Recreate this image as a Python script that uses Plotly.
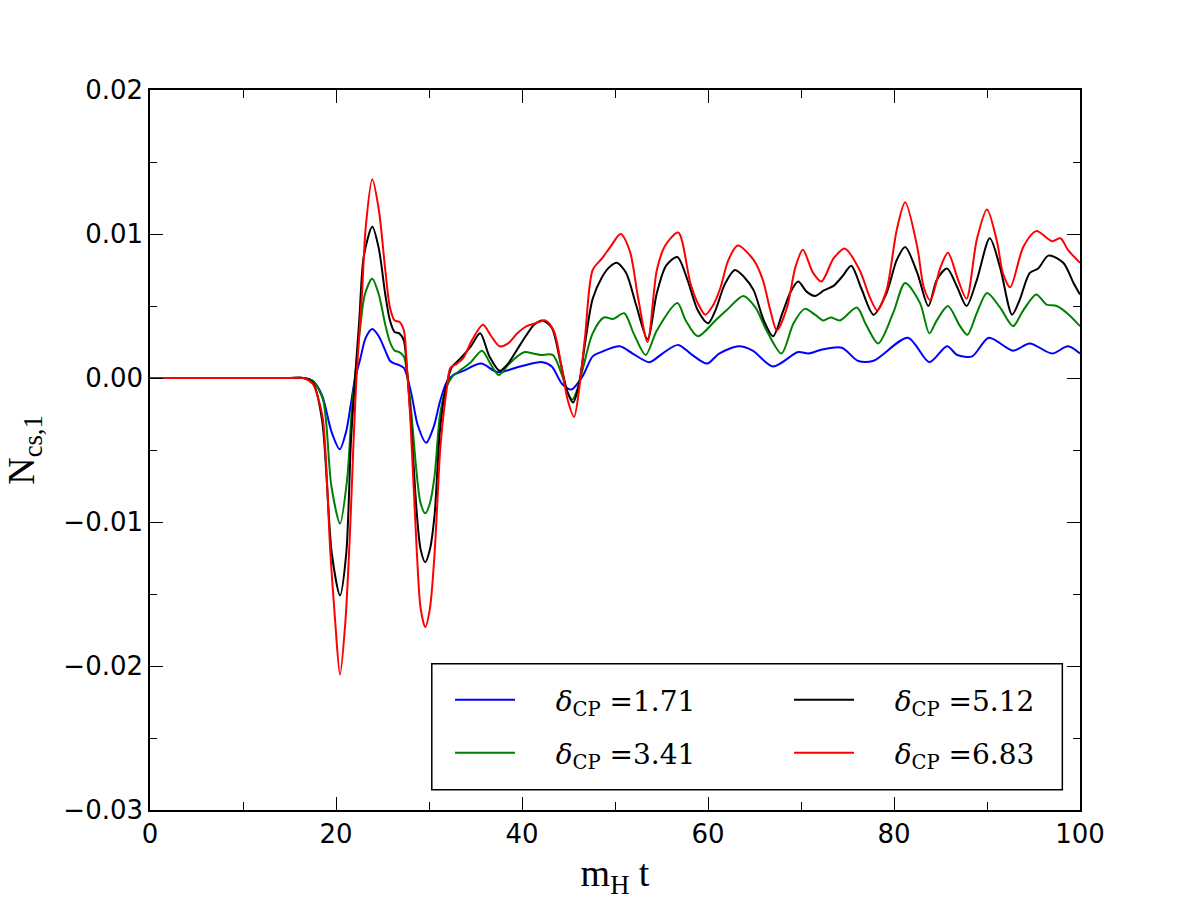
import plotly.graph_objects as go

# ---------------- data ----------------
t_blue = [0, 10, 15, 16.5, 17.5, 18.5, 19.5, 20.4, 21.1, 21.6, 22.0, 22.6, 23.2, 23.9, 24.6, 25.3, 25.8,
          26.3, 26.8, 27.3, 27.7, 28.2, 28.8, 29.7, 30.5, 31.2, 31.9, 32.6, 33.7, 35.6, 37.4, 39.8, 42.2,
          43.2, 44.3, 45.3, 46.5, 47.6, 48.5, 50.5, 51.9, 53.7, 55.1, 56.8, 58.3, 59.9, 61.2, 63.3, 64.8,
          67.0, 69.7, 70.8, 72.4, 74.4, 76.1, 77.8, 81.5, 83.8, 85.7, 86.8, 88.4, 90.2, 92.8, 94.6, 97.0,
          98.7, 100]
v_blue = [0, 0, 0, 0, -0.0002, -0.0012, -0.0037, -0.00495, -0.0037, -0.0018, -0.0002, 0.0013, 0.0028,
          0.0034, 0.0029, 0.0019, 0.0012, 0.0010, 0.0009, 0.0007, 0.0000, -0.0014, -0.0033, -0.0045,
          -0.0034, -0.0016, -0.0003, 0.0002, 0.0005, 0.0010, 0.0004, 0.0008, 0.0011, 0.0008, -0.0004,
          -0.0008, 0.0001, 0.0015, 0.0018, 0.0022, 0.0017, 0.0011, 0.0017, 0.0023, 0.0016, 0.0010, 0.0017,
          0.0022, 0.0019, 0.0008, 0.0018, 0.0017, 0.0020, 0.0021, 0.0012, 0.0012, 0.0028, 0.0011, 0.0022,
          0.0016, 0.0015, 0.0028, 0.0019, 0.0024, 0.0017, 0.0022, 0.0017]

t_green = [0, 10, 15, 16.5, 17.5, 18.6, 19.5, 20.43, 21.2, 21.7, 22.1, 22.6, 23.1, 23.9, 24.6, 25.3, 25.8,
           26.3, 26.8, 27.3, 27.6, 28.0, 28.7, 29.1, 29.6, 30.1, 30.6, 31.2, 31.9, 32.5, 33.3, 34.5, 35.7,
           36.6, 37.5, 38.5, 39.5, 40.3, 41.2, 42.0, 43.3, 44.3, 44.9, 45.4, 46.0, 46.6, 47.6, 48.8, 49.8,
           51.0, 52.0, 53.3, 54.5, 56.7, 57.6, 58.9, 60.8, 62.0, 63.8, 65.1, 66.3, 67.9, 69.2, 70.4, 71.5,
           72.4, 73.2, 74.2, 76.0, 77.0, 78.3, 79.9, 81.2, 82.8, 83.8, 84.6, 85.8, 87.1, 87.9, 88.9, 90.0,
           91.4, 92.8, 93.9, 95.3, 96.4, 97.5, 98.8, 100]
v_green = [0, 0, 0, 0, -0.0002, -0.0015, -0.0075, -0.0101, -0.0070, -0.0022, 0.0005, 0.0035, 0.0058,
           0.0069, 0.0058, 0.0037, 0.0025, 0.0019, 0.0018, 0.0015, 0.0005, -0.0017, -0.0068, -0.0087,
           -0.0094, -0.0087, -0.0068, -0.0025, -0.0006, 0.0001, 0.0005, 0.0011, 0.0019, 0.0010, 0.0002,
           0.0009, 0.0015, 0.0018, 0.0017, 0.0016, 0.0016, 0.0002, -0.0010, -0.0015, -0.0007, 0.0008,
           0.0031, 0.0042, 0.0041, 0.0045, 0.0031, 0.0016, 0.0033, 0.0052, 0.0040, 0.0029, 0.0040, 0.0047,
           0.0057, 0.0049, 0.0033, 0.0017, 0.0038, 0.0048, 0.0044, 0.0040, 0.0042, 0.0040, 0.0049, 0.0037,
           0.0024, 0.0045, 0.0066, 0.0052, 0.0031, 0.0040, 0.0050, 0.0036, 0.0030, 0.0045, 0.0059, 0.0049,
           0.0036, 0.0047, 0.0058, 0.0051, 0.0050, 0.0044, 0.0036]

t_black = [0, 10, 15, 16.5, 17.5, 18.5, 19.55, 20.43, 21.1, 21.6, 22.0, 22.5, 23.0, 23.9, 24.6, 25.3, 25.8,
           26.3, 26.8, 27.3, 27.6, 28.0, 28.7, 29.1, 29.6, 30.1, 30.6, 31.2, 31.9, 32.5, 33.3, 34.5, 35.5,
           36.5, 37.6, 38.5, 39.5, 40.5, 41.3, 42.2, 43.2, 44.1, 44.9, 45.5, 46.1, 46.8, 47.6, 48.6, 49.4,
           50.2, 51.2, 52.3, 53.5, 54.5, 55.5, 56.7, 57.8, 58.9, 60.0, 60.8, 61.8, 62.9, 63.9, 64.9, 66.0,
           67.0, 68.0, 68.9, 69.7, 70.6, 71.5, 72.5, 73.5, 74.5, 75.4, 76.5, 77.8, 79.2, 80.3, 81.2, 82.5,
           83.7, 84.6, 85.7, 86.8, 87.8, 88.9, 90.3, 91.4, 92.7, 93.5, 94.6, 95.5, 96.6, 98.2, 99.3, 100]
v_black = [0, 0, 0, 0, -0.0003, -0.0029, -0.0122, -0.0151, -0.0122, -0.0045, -0.0005, 0.0040, 0.0085,
           0.0105, 0.0090, 0.0058, 0.0040, 0.0032, 0.0031, 0.0026, 0.0008, -0.0025, -0.0095, -0.0119,
           -0.0128, -0.0119, -0.0095, -0.0035, -0.0004, 0.0008, 0.0013, 0.0022, 0.0031, 0.0015, 0.0005,
           0.0010, 0.0020, 0.0030, 0.0037, 0.0040, 0.0035, 0.0012, -0.0010, -0.0017, -0.0005, 0.0025,
           0.0055, 0.0070, 0.0077, 0.0080, 0.0073, 0.0050, 0.0027, 0.0059, 0.0078, 0.0084, 0.0068, 0.0047,
           0.0038, 0.0047, 0.0065, 0.0075, 0.0070, 0.0061, 0.0040, 0.0029, 0.0045, 0.0060, 0.0067, 0.0060,
           0.0057, 0.0061, 0.0064, 0.0071, 0.0078, 0.0062, 0.0044, 0.0059, 0.0082, 0.0091, 0.0073, 0.0050,
           0.0068, 0.0076, 0.0063, 0.0050, 0.0068, 0.0097, 0.0077, 0.0044, 0.0054, 0.0073, 0.0076, 0.0085,
           0.0080, 0.0066, 0.0058]

t_red = [0, 10, 15, 16.5, 17.5, 18.0, 18.6, 19.4, 19.9, 20.43, 21.0, 21.5, 21.85, 22.2, 22.8, 23.2, 23.9,
         24.6, 25.3, 25.8, 26.3, 26.8, 27.3, 27.6, 28.0, 28.7, 29.1, 29.6, 30.1, 30.6, 31.2, 31.5, 31.9,
         32.3, 33.0, 33.7, 34.6, 35.8, 36.7, 37.6, 38.5, 39.5, 40.5, 41.5, 42.5, 43.4, 44.2, 44.9, 45.6,
         46.2, 46.8, 47.6, 48.6, 49.6, 50.6, 51.6, 52.5, 53.5, 54.5, 55.4, 56.8, 58.1, 58.9, 59.7, 60.5,
         61.3, 62.2, 63.2, 64.9, 65.9, 66.7, 67.4, 68.5, 69.4, 70.2, 71.3, 72.2, 73.5, 74.7, 76.3, 77.4,
         78.2, 79.2, 80.3, 81.2, 82.5, 83.2, 83.9, 85.0, 85.8, 86.9, 87.8, 88.9, 90.0, 91.1, 91.7, 92.5,
         93.9, 95.3, 97.0, 97.9, 98.7, 100]
v_red = [0, 0, 0, 0, -0.0004, -0.0012, -0.0029, -0.0122, -0.0168, -0.0206, -0.0170, -0.0108, -0.0050,
         0.0000, 0.0059, 0.0105, 0.0138, 0.0117, 0.0075, 0.0049, 0.0040, 0.0039, 0.0033, 0.0010, -0.0029,
         -0.0122, -0.0160, -0.0173, -0.0160, -0.0122, -0.0050, -0.0029, -0.0008, 0.0007, 0.0010, 0.0014,
         0.0026, 0.0037, 0.0029, 0.0022, 0.0024, 0.0031, 0.0036, 0.0038, 0.0040, 0.0033, 0.0010, -0.0015,
         -0.0027, -0.0005, 0.0030, 0.0075, 0.0083, 0.0092, 0.0100, 0.0088, 0.0055, 0.0025, 0.0075, 0.0092,
         0.0101, 0.0066, 0.0052, 0.0044, 0.0050, 0.0062, 0.0082, 0.0092, 0.0082, 0.0068, 0.0047, 0.0033,
         0.0049, 0.0077, 0.0089, 0.0073, 0.0067, 0.0083, 0.0090, 0.0075, 0.0056, 0.0047, 0.0061, 0.0103,
         0.0122, 0.0091, 0.0063, 0.0054, 0.0077, 0.0087, 0.0068, 0.0055, 0.0096, 0.0117, 0.0094, 0.0073,
         0.0063, 0.0091, 0.0102, 0.0095, 0.0097, 0.0089, 0.0080]

delta_values = ["1.71", "3.41", "5.12", "6.83"]

y_tickvals = [-0.03, -0.02, -0.01, 0.0, 0.01, 0.02]
y_ticktext = ["\u22120.03", "\u22120.02", "\u22120.01", "0.00", "0.01", "0.02"]
x_tickvals = [0, 20, 40, 60, 80, 100]

PAD = "\u00a0" * 4


def label(val):
    return PAD + "<i>\u03b4</i><sub>CP</sub>\u00a0=" + val


series = [
    (label(delta_values[0]), t_blue, v_blue, "#0000ff", "legend", 1),
    (label(delta_values[1]), t_green, v_green, "#008000", "legend2", 1),
    (label(delta_values[2]), t_black, v_black, "#000000", "legend", 2),
    (label(delta_values[3]), t_red, v_red, "#ff0000", "legend2", 2),
]

fig = go.Figure()
for name, t, v, col, leg, rank in series:
    fig.add_trace(go.Scatter(
        x=t, y=v, mode="lines", name=name,
        line=dict(color=col, width=2, shape="spline", smoothing=0.8),
        legend=leg, legendrank=rank,
    ))

tick_font = dict(family="DejaVu Sans", size=26, color="black")
serif = "Liberation Serif"
leg_font = dict(family="DejaVu Serif", size=28, color="black")

common_legend = dict(
    orientation="h", x=0.3226, xanchor="left", yanchor="middle",
    entrywidth=264, entrywidthmode="pixels", itemwidth=60,
    font=leg_font, bgcolor="rgba(0,0,0,0)", borderwidth=0,
)

fig.update_layout(
    width=1200, height=900,
    margin=dict(l=150, r=120, t=90, b=90),
    paper_bgcolor="white", plot_bgcolor="white",
    showlegend=True,
    xaxis=dict(
        range=[0, 100], tickvals=x_tickvals, ticks="inside", ticklen=13, tickwidth=1.2,
        tickcolor="black", showline=True, linecolor="black", linewidth=1.5, mirror="ticks",
        showgrid=False, zeroline=False, tickfont=tick_font, automargin=False,
        minor=dict(dtick=10, ticks="inside", ticklen=8, tickwidth=1.2, tickcolor="black", showgrid=False),
        title=dict(text="m<sub>H</sub> t", font=dict(family=serif, size=38, color="black"), standoff=14),
    ),
    yaxis=dict(
        range=[-0.03, 0.02], tickvals=y_tickvals, ticktext=y_ticktext, ticks="inside", ticklen=13,
        tickwidth=1.2, tickcolor="black", showline=True, linecolor="black", linewidth=1.5, mirror="ticks",
        showgrid=False, zeroline=False, tickfont=tick_font, automargin=False,
        minor=dict(tickvals=[-0.025, -0.015, -0.005, 0.005, 0.015], ticks="inside", ticklen=7,
                   tickwidth=1.2, tickcolor="black", showgrid=False),
        title=dict(text="N<sub>cs,1</sub>", font=dict(family=serif, size=38, color="black"), standoff=34),
    ),
    legend=dict(common_legend, y=0.1528),
    legend2=dict(common_legend, y=0.0792),
    shapes=[dict(type="rect", xref="paper", yref="paper", x0=0.303, x1=0.981, y0=0.028, y1=0.203,
                 line=dict(color="black", width=1.5), fillcolor="white", layer="above")],
)

fig.write_html("out.html")
